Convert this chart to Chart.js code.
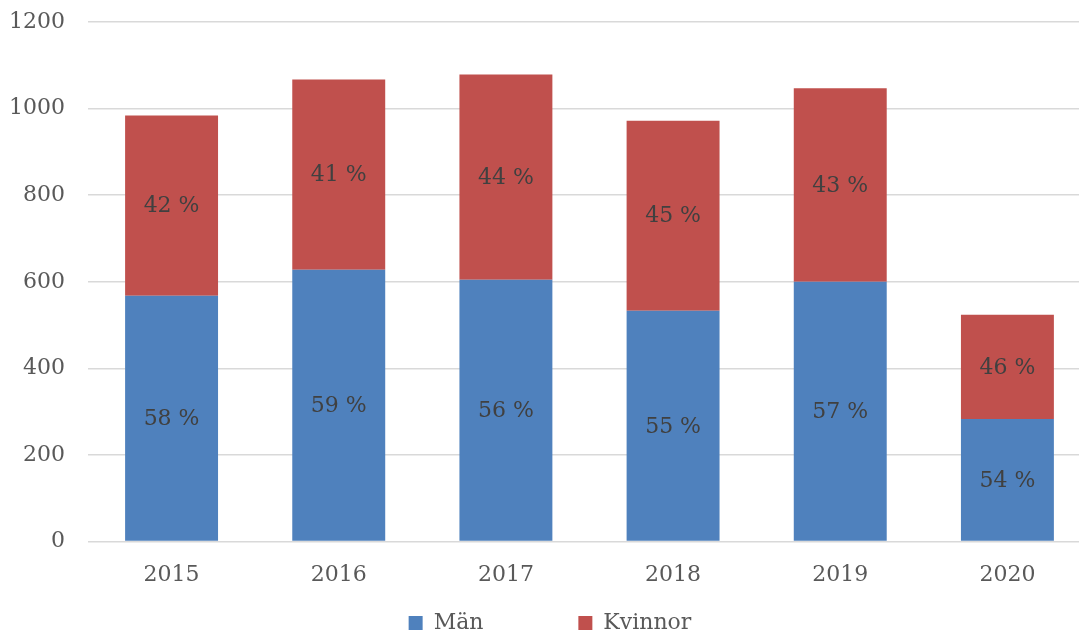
<!DOCTYPE html>
<html>
<head>
<meta charset="utf-8">
<script src="https://cdn.jsdelivr.net/npm/chart.js@4.4.1/dist/chart.umd.min.js"></script>
<style>
  html, body { margin: 0; padding: 0; background: #ffffff; }
  #frame { width: 1079px; height: 637px; overflow: hidden; position: relative; }
  #box { width: 1092px; height: 644px; position: absolute; left: 0; top: 0; }
</style>
</head>
<body>
<div id="frame"><div id="box"><canvas id="chart"></canvas></div></div>
<script>
// Antal per år, uppdelat på kön
const years = ['2015', '2016', '2017', '2018', '2019', '2020'];
const men = [568, 628, 605, 533, 600, 283];
const women = [416, 439, 474, 439, 447, 241];
const seriesNames = ['Män', 'Kvinnor'];
const yMin = 0, yMax = 1200, yStep = 200;

const FONT = '"DejaVu Serif", "Liberation Serif", serif';
const Y_TICK_GAP = 23;
Chart.defaults.font.family = FONT;
Chart.defaults.font.size = 22;
Chart.defaults.color = '#595959';

// Writes each segment's share of its year's total inside the segment
const shareLabels = {
  id: 'shareLabels',
  afterDatasetsDraw(chart) {
    const ctx = chart.ctx;
    const ds = chart.data.datasets;
    ctx.save();
    ctx.font = '22px ' + FONT;
    ctx.fillStyle = '#404040';
    ctx.textAlign = 'center';
    ctx.textBaseline = 'middle';
    ds.forEach((set, di) => {
      const meta = chart.getDatasetMeta(di);
      meta.data.forEach((bar, i) => {
        const total = ds.reduce((s, d) => s + d.data[i], 0);
        const pct = Math.round(set.data[i] / total * 100);
        const p = bar.getProps(['x', 'y', 'base'], true);
        ctx.fillText(pct + ' %', p.x, (p.y + p.base) / 2 + 1);
      });
    });
    ctx.restore();
  }
};

new Chart(document.getElementById('chart'), {
  type: 'bar',
  data: {
    labels: years,
    datasets: [
      { label: seriesNames[0], data: men, backgroundColor: '#4F81BD', borderWidth: 0 },
      { label: seriesNames[1], data: women, backgroundColor: '#C0504D', borderWidth: 0 }
    ]
  },
  options: {
    responsive: true,
    maintainAspectRatio: false,
    animation: false,
    layout: { padding: { left: 9, right: 1, top: 22, bottom: 0 } },
    datasets: { bar: { categoryPercentage: 1, barPercentage: 0.556 } },
    scales: {
      x: {
        stacked: true,
        grid: { display: false, drawTicks: false },
        border: { display: false },
        ticks: { padding: 20, color: '#595959', font: { size: 22 } }
      },
      y: {
        stacked: true,
        min: yMin,
        max: yMax,
        grid: { color: '#D9D9D9', lineWidth: 1.5, drawTicks: false },
        border: { display: false },
        ticks: {
          stepSize: yStep,
          padding: Y_TICK_GAP,
          color: '#595959',
          font: { size: 22 },
          callback: (v) => String(v)
        },
        // keep only one tick gap on the axis width and no extra room above/below
        afterFit(scale) {
          scale.width -= Y_TICK_GAP;
          scale.paddingTop = 13;
          scale.paddingBottom = 13;
        }
      }
    },
    plugins: {
      tooltip: { enabled: false },
      legend: {
        position: 'bottom',
        labels: {
          boxWidth: 14,
          boxHeight: 14,
          padding: 4,
          color: '#595959',
          font: { size: 22 },
          generateLabels(chart) {
            const items = Chart.defaults.plugins.legend.labels.generateLabels(chart);
            items.forEach((it, i) => {
              it.lineWidth = 0;
              if (i < items.length - 1) it.text = it.text + '\u00A0'.repeat(13);
            });
            return items;
          }
        }
      }
    }
  },
  plugins: [shareLabels]
});
</script>
</body>
</html>
